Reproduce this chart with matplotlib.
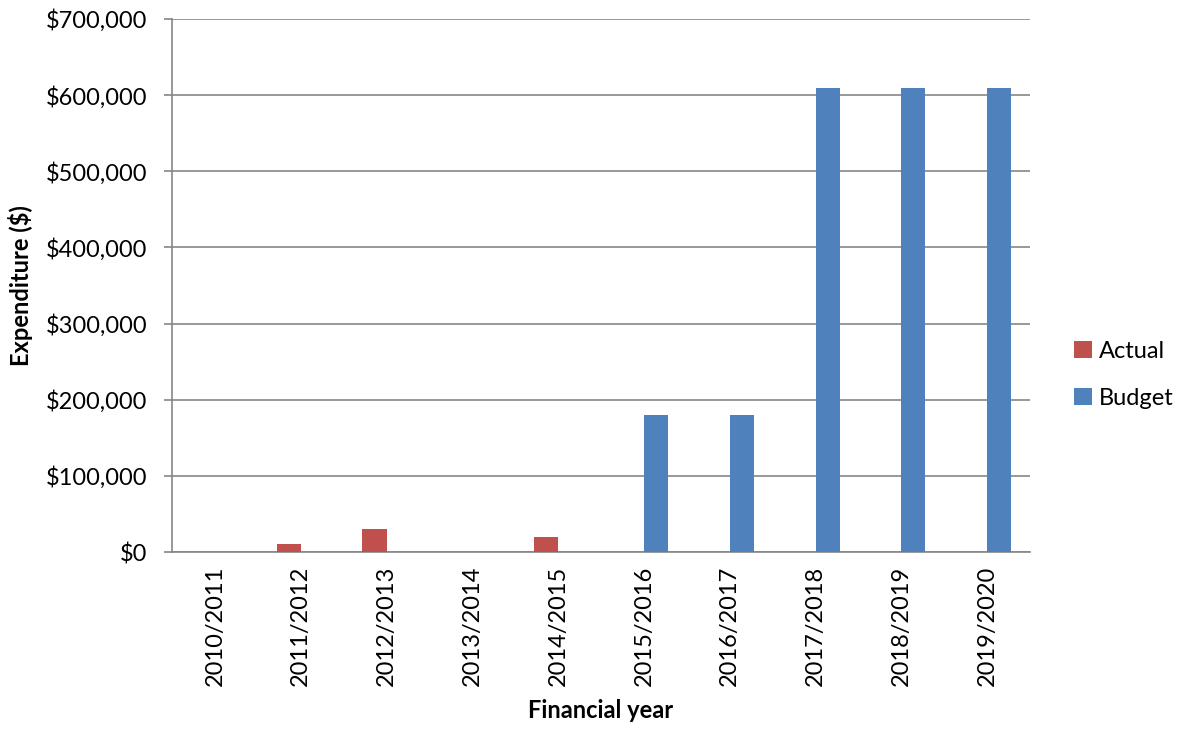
import matplotlib
matplotlib.use('Agg')
import matplotlib.pyplot as plt
import numpy as np
from matplotlib.ticker import FuncFormatter

years = ['2010/2011', '2011/2012', '2012/2013', '2013/2014', '2014/2015',
         '2015/2016', '2016/2017', '2017/2018', '2018/2019', '2019/2020']
actual = [0, 10000, 30000, 0, 20000, 0, 0, 0, 0, 0]
budget = [0, 0, 0, 0, 0, 180000, 180000, 610000, 610000, 610000]

plt.rcParams['font.family'] = ['Lato', 'DejaVu Sans']
fs = 17

fig = plt.figure(figsize=(11.83, 7.29), dpi=100)
ax = fig.add_axes([172 / 1183, 1 - 552 / 729, 858 / 1183, 533 / 729])

x = np.arange(len(years))
w = 0.28
ax.bar(x - w / 2, actual, w, color='#C0504D', label='Actual', zorder=3)
ax.bar(x + w / 2, budget, w, color='#4F81BD', label='Budget', zorder=3)

ax.set_xlim(-0.5, len(years) - 0.5)
ax.set_ylim(0, 700000)
ax.set_yticks(np.arange(0, 700001, 100000))
ax.yaxis.set_major_formatter(FuncFormatter(lambda v, p: '${:,.0f}'.format(v)))
ax.set_xticks(x)
ax.set_xticklabels(years, rotation=90)

ax.grid(axis='y', color='#868686', linewidth=1.2, zorder=0)
for s in ['top', 'right']:
    ax.spines[s].set_visible(False)
for s in ['left', 'bottom']:
    ax.spines[s].set_color('#868686')
    ax.spines[s].set_linewidth(1.2)

ax.tick_params(axis='y', length=6, width=1.2, color='#868686', labelsize=fs, pad=12)
ax.tick_params(axis='x', length=0, labelsize=fs, pad=10)

ax.set_ylabel('Expenditure ($)', fontsize=fs, fontweight='bold', labelpad=9)
ax.set_xlabel('Financial year', fontsize=fs, fontweight='bold', labelpad=9)

ax.legend(loc='center left', bbox_to_anchor=(1074 / 1183, 1 - 375 / 729),
          bbox_transform=fig.transFigure, frameon=False, borderpad=0, borderaxespad=0,
          fontsize=fs, handlelength=0.75, handleheight=0.75, handletextpad=0.3,
          labelspacing=1.1)

fig.savefig('out.png', dpi=100)
